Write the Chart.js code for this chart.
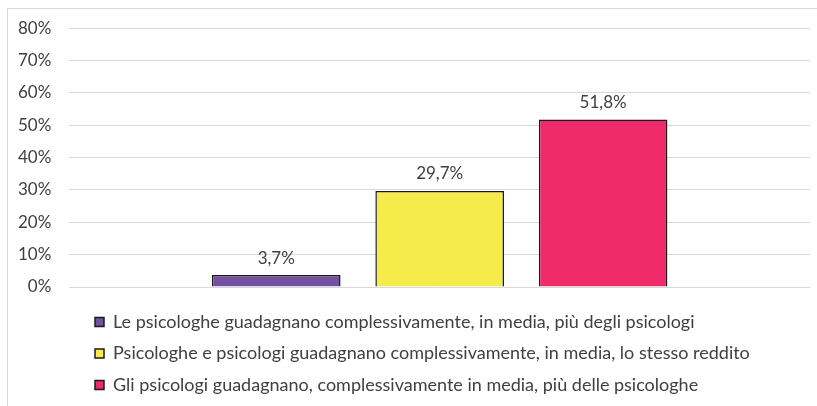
<!DOCTYPE html>
<html>
<head>
<meta charset="utf-8">
<script src="https://cdn.jsdelivr.net/npm/chart.js@4/dist/chart.umd.min.js"></script>
<style>
  html, body { margin: 0; padding: 0; background: #fff; }
  #wrap { position: relative; width: 817px; height: 406px; overflow: hidden; }
  #frame { position: absolute; left: 7px; top: 8px; width: 830px; height: 420px;
           border-top: 1px solid #d9d9d9; border-left: 1px solid #d9d9d9; }
  canvas { position: absolute; left: 0; top: 0; }
</style>
</head>
<body>
<div id="wrap">
  <div id="frame"></div>
  <canvas id="chart" width="817" height="406"></canvas>
</div>
<script>
const seriesNames = [
  'Le psicologhe guadagnano complessivamente, in media, più degli psicologi',
  'Psicologhe e psicologi guadagnano complessivamente, in media, lo stesso reddito',
  'Gli psicologi guadagnano, complessivamente in media, più delle psicologhe'
];
const seriesValues = [3.7, 29.7, 51.8];
const seriesColors = ['#7451a0', '#f5ec4c', '#ee2a6a'];
const yTicks = [0, 10, 20, 30, 40, 50, 60, 70, 80];

const textColor = '#404040';
const fontFamily = 'Lato, "Open Sans", sans-serif';

const fmtPct = v => v.toFixed(1).replace('.', ',') + '%';

// value labels above each bar
const barLabels = {
  id: 'barLabels',
  afterDatasetsDraw(chart) {
    const ctx = chart.ctx;
    ctx.save();
    ctx.font = '17px ' + fontFamily;
    ctx.fillStyle = textColor;
    ctx.textAlign = 'center';
    ctx.textBaseline = 'middle';
    chart.data.datasets.forEach((ds, i) => {
      const bar = chart.getDatasetMeta(i).data[0];
      ctx.fillText(fmtPct(ds.data[0]), bar.x, bar.y - 17);
    });
    ctx.restore();
  }
};

// push the legend rows in from the left edge
const legendIndent = {
  id: 'legendIndent',
  beforeDraw(chart) {
    chart.legend.left = 81.5;
  }
};

const datasets = seriesNames.map((name, i) => ({
  label: name,
  data: [seriesValues[i]],
  backgroundColor: seriesColors[i],
  borderColor: '#1a1a1a',
  borderWidth: 1.5
}));

new Chart(document.getElementById('chart'), {
  type: 'bar',
  data: { labels: [''], datasets: datasets },
  options: {
    responsive: false,
    animation: false,
    categoryPercentage: 0.662,
    barPercentage: 0.787,
    layout: { padding: { left: 0, right: 7, top: 21, bottom: 2 } },
    scales: {
      x: {
        grid: { display: false },
        border: { display: false },
        ticks: { display: false },
        afterFit(scale) { scale.height = 12.5; }
      },
      y: {
        min: 0,
        max: 80,
        afterBuildTicks(scale) { scale.ticks = yTicks.map(v => ({ value: v })); },
        grid: { color: '#d9d9d9', drawTicks: false },
        border: { display: false },
        ticks: {
          padding: 18,
          color: textColor,
          font: { family: fontFamily, size: 17 },
          callback: v => v + '%'
        }
      }
    },
    plugins: {
      tooltip: { enabled: false },
      legend: {
        position: 'bottom',
        align: 'start',
        labels: {
          boxWidth: 9,
          boxHeight: 9,
          padding: 13.5,
          color: textColor,
          font: { family: fontFamily, size: 18 }
        }
      }
    }
  },
  plugins: [barLabels, legendIndent]
});
</script>
</body>
</html>
